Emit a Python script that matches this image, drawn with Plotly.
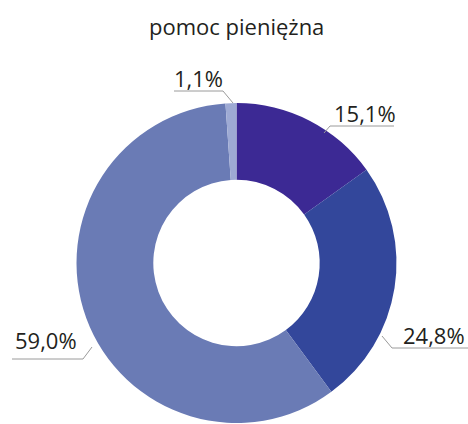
import plotly.graph_objects as go

# ---- data ----
title_text = "pomoc pieniężna"
categories = ["A", "B", "C", "D"]
values = [15.1, 24.8, 59.0, 1.1]
colors = ["#3C2994", "#33479B", "#6A7BB5", "#9EAAD4"]

W, H = 468, 424

def fmt(v):
    return f"{v:.1f}".replace(".", ",") + "%"

# ---- label layout (pixels): text left x, text middle y, underline (x0,x1,y), leader end ----
label_style = [
    dict(tx=332, ty=113, ux0=330, ux1=394, uy=126, side="left", lx=324, ly=133),
    dict(tx=401, ty=335, ux0=392, ux1=468, uy=348, side="left", lx=382, ly=336),
    dict(tx=13, ty=340, ux0=12, ux1=83, uy=359, side="right", lx=92, ly=347),
    dict(tx=172, ty=78, ux0=174, ux1=223, uy=91, side="right", lx=233, ly=103),
]

def px(x):
    return x / W

def py(y):
    return 1 - y / H

cx, cy, r = 236.5, 263, 160

fig = go.Figure(go.Pie(
    labels=categories,
    values=values,
    hole=0.52,
    sort=False,
    direction="clockwise",
    rotation=0,
    marker=dict(colors=colors, line=dict(width=0)),
    textinfo="none",
    hoverinfo="label+percent",
    domain=dict(x=[px(cx - r), px(cx + r)], y=[py(cy + r), py(cy - r)]),
    showlegend=False,
))

shapes = []
annotations = []
for v, s in zip(values, label_style):
    annotations.append(dict(
        x=px(s["tx"]), y=py(s["ty"]), xref="paper", yref="paper",
        xanchor="left", yanchor="middle", showarrow=False,
        text=fmt(v), font=dict(family="Open Sans", size=22, color="#231F20"),
    ))
    jx = s["ux0"] if s["side"] == "left" else s["ux1"]
    shapes.append(dict(
        type="path", xref="paper", yref="paper",
        path=f"M {px(s['ux1'] if s['side']=='left' else s['ux0'])},{py(s['uy'])} "
             f"L {px(jx)},{py(s['uy'])} L {px(s['lx'])},{py(s['ly'])}",
        line=dict(color="#9A9A9A", width=1),
    ))

annotations.append(dict(
    x=px(236), y=py(26), xref="paper", yref="paper",
    xanchor="center", yanchor="middle", showarrow=False,
    text=title_text, font=dict(family="Open Sans", size=22, color="#231F20"),
))

fig.update_layout(
    width=W, height=H,
    margin=dict(l=0, r=0, t=0, b=0),
    paper_bgcolor="white", plot_bgcolor="white",
    shapes=shapes, annotations=annotations,
)

fig.write_html("out.html")
